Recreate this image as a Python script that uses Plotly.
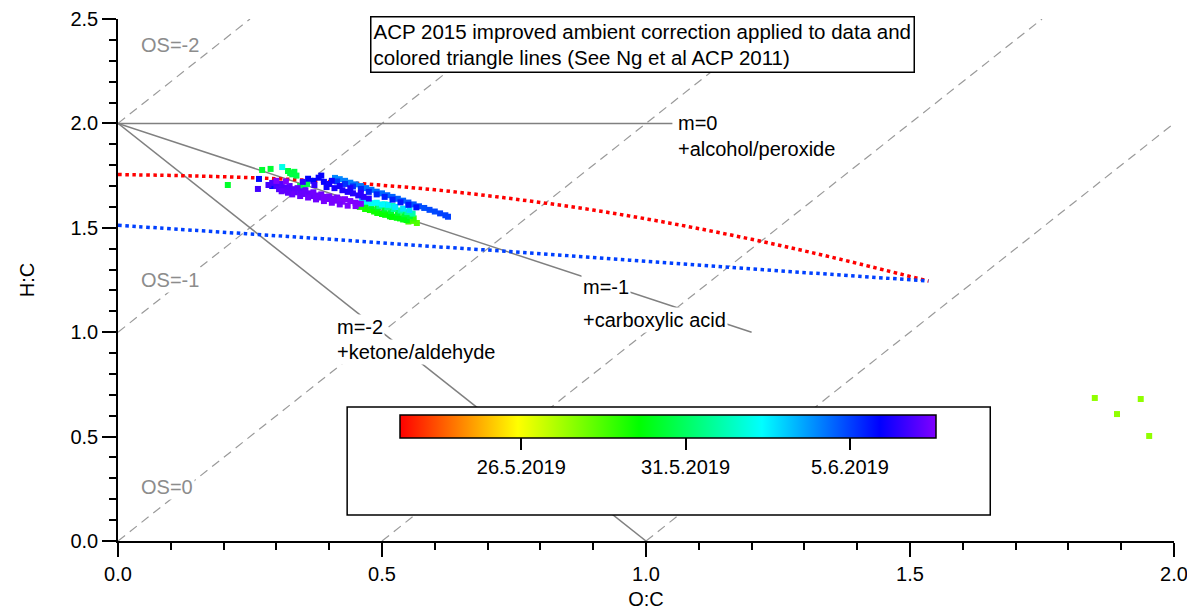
import plotly.graph_objects as go

# ---------------- data ----------------
# scatter points: O:C, H:C and sample day (day number counted from 1 May 2019)
oc_vals = [1.850, 1.937, 1.892, 1.953,
           0.566, 0.559, 0.550, 0.545, 0.560,
           0.458, 0.468, 0.477, 0.485, 0.491, 0.500, 0.506, 0.515, 0.519, 0.528, 0.534, 0.540, 0.547,
           0.468, 0.480, 0.492, 0.505, 0.517, 0.530, 0.542, 0.553,
           0.208, 0.273, 0.289, 0.322, 0.326, 0.330, 0.334, 0.338, 0.345, 0.352, 0.358,
           0.495, 0.510, 0.522, 0.535, 0.548, 0.558, 0.505, 0.520,
           0.311, 0.470, 0.480, 0.490, 0.500, 0.512, 0.525, 0.540, 0.552, 0.462,
           0.411, 0.420, 0.430, 0.440, 0.450, 0.460, 0.470, 0.480, 0.490, 0.500, 0.510, 0.520,
           0.530, 0.540, 0.550, 0.560, 0.570, 0.580, 0.590, 0.600, 0.610, 0.620, 0.625,
           0.415, 0.430, 0.445, 0.460, 0.475, 0.490, 0.505, 0.520, 0.535, 0.550, 0.565,
           0.267, 0.292, 0.360, 0.370, 0.380, 0.390, 0.400, 0.395, 0.410, 0.420, 0.425, 0.435,
           0.445, 0.455, 0.465, 0.475, 0.350, 0.372, 0.385, 0.405, 0.440, 0.460,
           0.265, 0.285, 0.292, 0.300, 0.305, 0.310, 0.315, 0.320, 0.325, 0.330, 0.335, 0.340,
           0.345, 0.350, 0.355, 0.360, 0.365, 0.370, 0.375, 0.380, 0.385, 0.390, 0.395, 0.400,
           0.405, 0.410, 0.415, 0.420, 0.425, 0.430, 0.440, 0.450, 0.460, 0.300, 0.318,
           0.330, 0.345, 0.360, 0.375, 0.390, 0.405, 0.420, 0.435, 0.450, 0.310, 0.322]
hc_vals = [0.685, 0.680, 0.608, 0.503,
           1.523, 1.533, 1.530, 1.540, 1.545,
           1.600, 1.590, 1.585, 1.578, 1.571, 1.566, 1.562, 1.555, 1.552, 1.548, 1.545, 1.540, 1.537,
           1.612, 1.604, 1.597, 1.588, 1.580, 1.572, 1.565, 1.557,
           1.705, 1.777, 1.782, 1.772, 1.762, 1.756, 1.768, 1.750, 1.700, 1.690, 1.710,
           1.605, 1.598, 1.590, 1.583, 1.575, 1.568, 1.612, 1.605,
           1.791, 1.625, 1.618, 1.620, 1.612, 1.610, 1.600, 1.592, 1.585, 1.640,
           1.739, 1.733, 1.725, 1.716, 1.708, 1.700, 1.690, 1.682, 1.673, 1.665, 1.656, 1.648,
           1.639, 1.630, 1.621, 1.612, 1.603, 1.595, 1.586, 1.578, 1.569, 1.560, 1.553,
           1.722, 1.710, 1.698, 1.686, 1.672, 1.660, 1.648, 1.635, 1.622, 1.610, 1.598,
           1.734, 1.700, 1.735, 1.725, 1.740, 1.720, 1.710, 1.695, 1.690, 1.700, 1.680, 1.672,
           1.665, 1.655, 1.648, 1.640, 1.720, 1.705, 1.750, 1.725, 1.690, 1.668,
           1.686, 1.705, 1.715, 1.700, 1.685, 1.710, 1.692, 1.680, 1.700, 1.685, 1.670, 1.690,
           1.675, 1.662, 1.680, 1.665, 1.652, 1.670, 1.655, 1.645, 1.660, 1.648, 1.638, 1.650,
           1.640, 1.630, 1.645, 1.635, 1.625, 1.637, 1.628, 1.620, 1.615, 1.725, 1.722,
           1.660, 1.652, 1.645, 1.636, 1.628, 1.620, 1.612, 1.606, 1.604, 1.675, 1.668]
day_vals = [27.5, 27.5, 27.5, 27.5,
            28.4, 28.5, 28.6, 28.7, 28.8,
            29.2, 29.3, 29.3, 29.4, 29.4, 29.5, 29.5, 29.6, 29.6, 29.7, 29.7, 29.8, 29.8,
            30.0, 30.0, 30.1, 30.1, 30.2, 30.2, 30.3, 30.3,
            30.2, 30.3, 30.3, 30.4, 30.4, 30.5, 30.5, 30.6, 30.6, 30.7, 30.7,
            31.6, 31.7, 31.8, 31.9, 32.0, 32.1, 32.2, 32.3,
            33.0, 33.1, 33.2, 33.3, 33.4, 33.5, 33.6, 33.7, 33.8, 33.9,
            35.0, 35.0, 35.1, 35.1, 35.2, 35.2, 35.3, 35.3, 35.4, 35.4, 35.5, 35.5,
            35.6, 35.6, 35.7, 35.7, 35.8, 35.8, 35.9, 35.9, 36.0, 36.0, 36.0,
            36.1, 36.2, 36.3, 36.3, 36.4, 36.4, 36.5, 36.5, 36.6, 36.6, 36.7,
            36.8, 36.8, 36.9, 36.9, 37.0, 37.0, 37.1, 37.1, 37.2, 37.2, 37.3, 37.3,
            37.4, 37.4, 37.5, 37.5, 37.6, 37.6, 37.0, 37.1, 37.3, 37.5,
            37.8, 37.8, 37.9, 37.9, 38.0, 38.0, 38.0, 38.1, 38.1, 38.1, 38.2, 38.2,
            38.2, 38.3, 38.3, 38.3, 38.3, 38.4, 38.4, 38.4, 38.4, 38.5, 38.5, 38.5,
            38.5, 38.5, 38.5, 38.6, 38.6, 38.6, 38.6, 38.6, 38.6, 38.6, 38.6,
            38.3, 38.3, 38.4, 38.4, 38.5, 38.5, 38.5, 38.6, 38.6, 38.2, 38.2]

# colour bar (day numbers from 1 May 2019)
cbar_min = 22.31
cbar_max = 38.62
cbar_tickvals = [26, 31, 36]
cbar_ticktext = ["26.5.2019", "31.5.2019", "5.6.2019"]

# Ng et al. triangle lines (ambient corrected)
tri_red_oc = [0.0, 0.15, 0.30, 0.45, 0.60, 0.75, 0.90, 1.05, 1.20, 1.35, 1.535]
tri_red_hc = [1.755, 1.748, 1.735, 1.713, 1.682, 1.638, 1.585, 1.520, 1.445, 1.360, 1.245]
tri_blue_oc = [0.0, 0.15, 0.30, 0.45, 0.60, 0.75, 0.90, 1.05, 1.20, 1.35, 1.535]
tri_blue_hc = [1.512, 1.487, 1.462, 1.437, 1.410, 1.385, 1.358, 1.330, 1.303, 1.277, 1.245]

# oxidation state lines  H:C = 2*O:C - OS
os_values = [-2, -1, 0, 1, 2]
# functionalisation slope lines from (0, 2)
m_labels = ["m=0", "m=-1", "m=-2"]
m_end_oc = [1.05, 1.20, 1.00]
m_end_hc = [2.00, 1.00, 0.00]

FONT = "Liberation Sans, Arial, sans-serif"
FS = 20
fig = go.Figure()

# OS dashed lines clipped to the plot box
for os_ in os_values:
    x0 = max(0.0, os_ / 2)
    x1 = min(2.0, (2.5 + os_) / 2)
    fig.add_trace(go.Scatter(x=[x0, x1], y=[2 * x0 - os_, 2 * x1 - os_], mode="lines",
                             line=dict(color="#9a9a9a", width=1.2, dash="9px,6px"),
                             hoverinfo="skip", showlegend=False))

for xe, ye in zip(m_end_oc, m_end_hc):
    fig.add_trace(go.Scatter(x=[0, xe], y=[2, ye], mode="lines",
                             line=dict(color="#808080", width=1.5),
                             hoverinfo="skip", showlegend=False))

fig.add_trace(go.Scatter(x=tri_red_oc, y=tri_red_hc, mode="lines", line_shape="spline",
                         line=dict(color="#ff0000", width=3.5, dash="3.5px,3.5px"),
                         hoverinfo="skip", showlegend=False))
fig.add_trace(go.Scatter(x=tri_blue_oc, y=tri_blue_hc, mode="lines", line_shape="spline",
                         line=dict(color="#0040ff", width=3.5, dash="3.5px,3.5px"),
                         hoverinfo="skip", showlegend=False))

colorscale = [[0.0, "#ff0000"], [0.11, "#ff8000"], [0.22, "#ffff00"], [0.446, "#00ff00"],
              [0.675, "#00ffff"], [0.895, "#0000ff"], [1.0, "#8000ff"]]

# plot area in window pixels: x 118..1174, y 19..541 (page has an 8 px body margin)
fig.add_trace(go.Scatter(
    x=oc_vals, y=hc_vals, mode="markers",
    marker=dict(symbol="square", size=6, color=day_vals, colorscale=colorscale,
                cmin=cbar_min, cmax=cbar_max, line=dict(width=0),
                showscale=True,
                colorbar=dict(orientation="h", lenmode="pixels", len=536, thickness=23,
                              x=(668 - 118) / 1056, xanchor="center",
                              y=(541 - 415) / 522, yanchor="top", xpad=0, ypad=0,
                              outlinecolor="black", outlinewidth=1.5,
                              tickmode="array", tickvals=cbar_tickvals, ticktext=cbar_ticktext,
                              ticks="outside", ticklen=12, tickwidth=1.5, tickcolor="black",
                              tickfont=dict(size=FS, family=FONT, color="black"))),
    showlegend=False, hoverinfo="skip"))

# white box behind the colour bar
fig.add_shape(type="rect", xref="x", yref="y", x0=0.434, x1=1.652, y0=0.125, y1=0.642,
              line=dict(color="black", width=1.5), fillcolor="white", layer="above")

annos = []
def lab(text, x, y, color="black"):
    annos.append(dict(text=text, x=x, y=y, xref="x", yref="y", xanchor="left", yanchor="middle",
                      showarrow=False, bgcolor="white", borderpad=1,
                      font=dict(size=FS, family=FONT, color=color)))

lab("OS=-2", 0.04, 2.375, "#8c8c8c")
lab("OS=-1", 0.04, 1.25, "#8c8c8c")
lab("OS=0", 0.04, 0.26, "#8c8c8c")
lab(m_labels[0], 1.057, 2.0)
lab("+alcohol/peroxide", 1.057, 1.877)
lab(m_labels[1], 0.877, 1.215)
lab("+carboxylic acid", 0.877, 1.06)
lab(m_labels[2], 0.411, 1.025)
lab("+ketone/aldehyde", 0.411, 0.905)

annos.append(dict(text="ACP 2015 improved ambient correction applied to data and<br>colored triangle lines (See Ng et al ACP 2011)",
                  x=(370 - 118) / 1056, y=(541 - 16) / 522, xref="paper", yref="paper",
                  xanchor="left", yanchor="top", align="left", showarrow=False,
                  bgcolor="white", bordercolor="black", borderwidth=1.5, borderpad=2,
                  font=dict(size=20.5, family=FONT, color="black")))

axis_common = dict(showline=True, linecolor="black", linewidth=1.5, ticks="outside", ticklen=14,
                   tickwidth=1.5, tickcolor="black", showgrid=False, zeroline=False,
                   automargin=False,
                   tickformat=".1f", tickfont=dict(size=FS, family=FONT, color="black"))

fig.update_layout(
    width=1187, height=606,
    margin=dict(l=110, r=21, t=11, b=73, autoexpand=False),
    paper_bgcolor="white", plot_bgcolor="white",
    font=dict(family=FONT, size=FS, color="black"),
    xaxis=dict(range=[0, 2], dtick=0.5, title=dict(text="O:C", font=dict(size=FS), standoff=8),
               minor=dict(ticks="outside", ticklen=7, dtick=0.1, tickcolor="black", tickwidth=1.5),
               **axis_common),
    yaxis=dict(range=[0, 2.5], dtick=0.5, title=dict(text="H:C", font=dict(size=FS), standoff=30),
               minor=dict(ticks="outside", ticklen=7, dtick=0.1, tickcolor="black", tickwidth=1.5),
               **axis_common),
    annotations=annos,
)

fig.write_html("out.html")
